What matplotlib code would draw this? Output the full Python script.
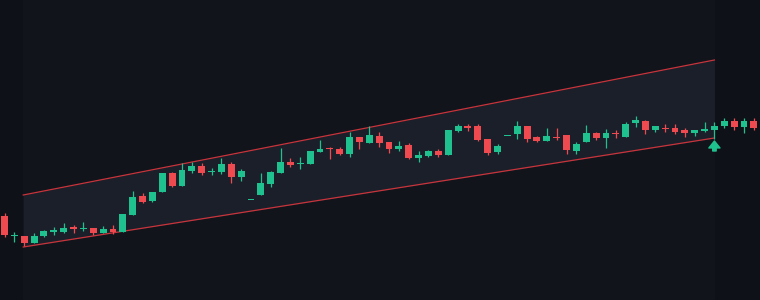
import numpy as np
import matplotlib
matplotlib.use("Agg")
from matplotlib import pyplot as plt

# OHLC (arbitrary price units)
opens = [58.4, 56.4, 56.4, 55.7, 56.4, 56.8, 56.8, 57.3, 57.1, 57.2,
         56.7, 57.1, 56.8, 58.5, 60.4, 59.9, 60.8, 62.7, 61.4, 62.9,
         63.4, 62.85, 62.8, 63.6, 62.3, 60.0, 60.5, 61.6, 62.7, 63.8,
         63.65, 63.6, 64.8, 65.2, 65.1, 64.6, 66.3, 65.7, 66.4, 65.8,
         65.1, 65.5, 64.2, 64.4, 64.9, 64.5, 66.9, 67.4, 67.4, 66.1,
         64.8, 66.4, 66.6, 67.4, 66.3, 65.9, 66.25, 66.5, 64.9, 65.8,
         66.7, 66.2, 66.65, 66.3, 67.7, 67.9, 67.0, 67.2, 67.2, 67.0,
         66.7, 66.95, 67.0, 67.4, 67.9, 67.3, 67.9]
highs = [58.7, 56.8, 56.4, 56.7, 57.0, 57.3, 57.7, 57.5, 57.8, 57.2,
         57.4, 57.5, 58.6, 60.9, 60.7, 60.8, 62.7, 62.8, 63.7, 63.8,
         63.7, 63.2, 64.2, 63.8, 63.1, 60.0, 62.7, 62.9, 65.2, 64.2,
         64.3, 64.9, 66.0, 65.3, 65.3, 66.8, 66.3, 67.4, 66.8, 65.8,
         65.9, 65.7, 64.9, 65.0, 65.1, 67.0, 67.6, 67.6, 67.6, 66.1,
         65.6, 66.4, 67.9, 67.4, 66.4, 67.2, 67.2, 66.5, 65.8, 67.5,
         66.8, 67.1, 67.0, 67.8, 68.4, 68.0, 67.4, 67.6, 67.6, 67.2,
         67.0, 67.8, 67.8, 68.2, 68.2, 68.2, 68.2]
lows = [56.3, 55.8, 55.4, 55.7, 56.3, 56.5, 56.7, 56.7, 56.9, 56.5,
        56.7, 56.6, 56.8, 58.5, 59.7, 59.8, 60.8, 61.3, 61.4, 62.7,
        62.5, 62.5, 62.6, 61.7, 61.9, 60.0, 60.5, 61.3, 62.7, 63.3,
        63.1, 63.6, 64.8, 64.1, 64.5, 64.3, 65.1, 65.7, 65.3, 64.7,
        64.9, 64.1, 63.8, 64.3, 64.3, 64.5, 66.8, 66.9, 65.9, 64.5,
        64.6, 66.4, 66.1, 65.8, 65.8, 65.9, 66.0, 64.6, 64.6, 65.8,
        66.0, 65.2, 66.2, 66.3, 67.3, 66.6, 66.8, 66.8, 66.6, 66.3,
        66.4, 66.8, 66.1, 67.2, 67.0, 66.7, 67.0]
closes = [56.5, 56.45, 55.7, 56.4, 56.9, 57.0, 57.2, 57.1, 57.2, 56.7,
          57.1, 56.8, 58.6, 60.3, 59.8, 60.8, 62.7, 61.4, 63.0, 63.4,
          62.7, 62.9, 63.6, 62.3, 62.9, 60.0, 61.7, 62.8, 63.8, 63.5,
          63.7, 64.9, 65.1, 65.1, 64.6, 66.3, 65.8, 66.5, 65.7, 65.1,
          65.4, 64.2, 64.5, 64.9, 64.5, 67.0, 67.4, 67.2, 66.0, 64.7,
          65.4, 66.4, 67.4, 66.1, 65.9, 66.4, 66.2, 65.0, 65.6, 66.7,
          66.2, 66.7, 66.6, 67.6, 68.0, 67.0, 67.4, 67.1, 66.8, 66.7,
          67.0, 67.0, 67.4, 67.9, 67.3, 67.9, 67.2]

# channel: two parallel-ish trend lines
chan_x = [1.9, 72]
chan_upper = [60.5, 74.0]
chan_lower = [55.3, 66.2]

# signal arrow under the last channel bar
signal_idx = 72
signal_from = 64.9
signal_to = 65.9

BG = "#0e1118"
BAND = "#11141b"
FILL = "#1b1f29"
UP = "#1fc28f"
DOWN = "#ef4a50"
LINE = "#c8343c"

fig = plt.figure(figsize=(7.6, 3.0), dpi=100, facecolor=BG)
ax = fig.add_axes([0, 0, 1, 1])
ax.set_facecolor(BG)

ax.axvspan(chan_x[0], chan_x[1], color=BAND, zorder=0)
ax.fill_between(chan_x, chan_lower, chan_upper, color=FILL, zorder=1, linewidth=0)
ax.plot(chan_x, chan_upper, color=LINE, lw=0.9, zorder=2)
ax.plot(chan_x, chan_lower, color=LINE, lw=0.9, zorder=2)

o = np.array(opens)
h = np.array(highs)
l = np.array(lows)
c = np.array(closes)
idx = np.arange(len(o))
up = c >= o
colors = np.where(up, UP, DOWN)

ax.vlines(idx, l, h, colors=colors, lw=0.9, zorder=3)
body_lo = np.minimum(o, c)
body_h = np.maximum(np.abs(c - o), 0.1)
ax.bar(idx, body_h, bottom=body_lo, width=0.7, color=colors, linewidth=0, zorder=4)

ax.annotate("", xy=(signal_idx, signal_to), xytext=(signal_idx, signal_from),
            arrowprops=dict(facecolor=UP, edgecolor=UP, width=2.5, headwidth=8,
                            headlength=5, shrink=0), zorder=5)

step = 9.86
ax.set_xlim(-4.5 / step, -4.5 / step + 760 / step)
ax.set_ylim(50, 80)
ax.axis("off")

fig.savefig("out.png", dpi=100, facecolor=BG)
